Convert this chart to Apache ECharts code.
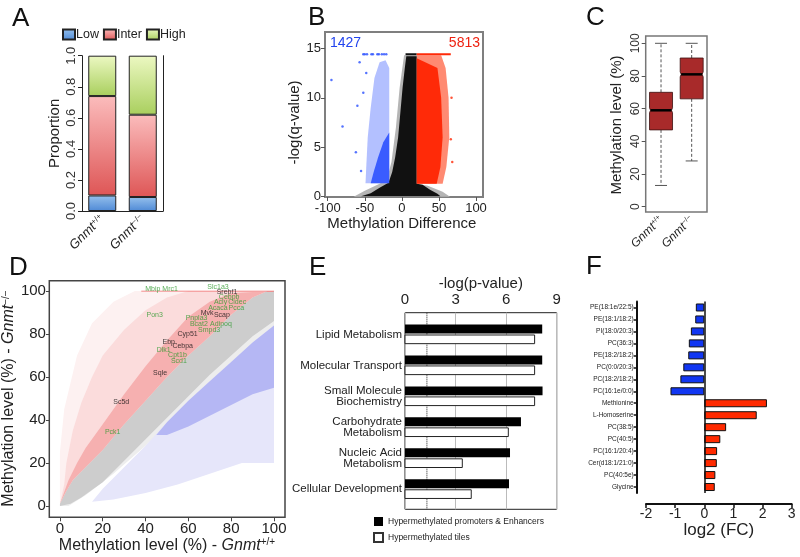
<!DOCTYPE html>
<html lang="en">
<head>
<meta charset="UTF-8">
<title>Gnmt methylation</title>
<script src="https://cdn.jsdelivr.net/npm/echarts@6.0.0/dist/echarts.min.js"></script>
<style>
    *{ padding:0; margin:0; }
    html,body{ width:800px; height:557px; background:#fff; }
    #main{ width:800px; height:557px; }
</style>
</head>
<body>
<div id="main"></div>
<script>
// ---- A: proportions
var genotypes = ['Gnmt+/+', 'Gnmt\u2212/\u2212'];
var propLow = [0.10, 0.09];
var propInter = [0.64, 0.53];
var propHigh = [0.26, 0.38];

// ---- B: volcano (cloud outlines, x = difference, y = -log q)
var bBlackHalo = [[-65,0],[-50,0.6],[-30,1.3],[-20,1.8],[-14,3.5],[-8,7],[-3,11],[3,14.3],[20,14.3],[20,1.3],[35,1.1],[55,0.5],[65,0]];
var bBlackCore = [[-55,0.05],[-42,0.35],[-30,0.9],[-18,1.4],[-13,2.5],[-9,4],[-5,6],[-2,8.5],[1,11],[4,13],[6,14.2],[20,14.2],[20,1.3],[28,1.2],[38,0.7],[48,0.3],[52,0.05]];
var bBlueHalo = [[-17,1.35],[-49,1.35],[-48,3],[-46,6],[-42,9],[-37,12],[-30,13.6],[-22,13.8],[-17,13]];
var bBlueCore = [[-17,1.35],[-42,1.35],[-38,2.5],[-32,4],[-25,5.5],[-17,6.5]];
var bRedHalo = [[20,1.3],[55,1.3],[60,3],[64,6],[63,10],[59,13],[53,14.3],[20,14.3]];
var bRedCore = [[20,1.3],[47,1.3],[52,3],[55,6],[53,10],[48,13],[20,14]];
var bBlueOut = [[-95,11.8],[-80,7.1],[-57,13.6],[-60,9.2],[-62,4.5],[-55,2.6],[-48,12.5],[-52,10.5]];
var bBlueTop = [[-52,14.4],[-50,14.4],[-47,14.4],[-41,14.4],[-39,14.4],[-33,14.4],[-31,14.4],[-27,14.4],[-24,14.4],[-21,14.4]];
var bRedOut = [[67,10],[66,5.8],[68,3.5]];
var bBlackTop = [[5,14.4],[20,14.4]];
var bRedTop = [[20,14.4],[66,14.4]];
var nDown = '1427', nUp = '5813';

// ---- C: methylation level boxes [category, low, q1, median, q3, high]
var boxWT = [0, 13, 47, 59, 70, 100];
var boxKO = [1, 28, 66, 81, 91, 100];

// ---- D: scatter clouds (WT level, KO level)
var dGrayHalo = [[0,0],[3,10],[8,20],[15,30],[25,44],[35,55],[45,64],[55,73],[65,82],[75,90],[85,97],[95,100],[100,100],[100,75],[85,65],[70,54],[55,42],[40,28],[25,15],[12,5],[4,0]];
var dGrayUpper = [[0,1],[3,7],[6,12],[10,16],[15,21],[20,26],[30,38],[40,49],[50,60],[60,70],[70,79],[80,89],[90,97],[97,100],[100,100]];
var dGrayLower = [[100,86],[90,79],[80,70],[70,61],[60,51],[50,41],[40,31],[30,21],[20,11],[10,4],[5,1],[0,0]];
var dRedFar = [[0,10],[0,25],[2,45],[8,70],[15,85],[25,95],[35,100],[90,100]];
var dRedHalo = [[2,10],[3,20],[6,35],[10,48],[15,60],[20,70],[30,82],[40,91],[50,97],[60,100],[90,100]];
var dRedCore = [[4,12],[8,20],[12,27],[20,38],[30,52],[40,65],[50,77],[60,88],[70,95],[80,99],[90,99.5]];
var dBlueHalo = [[15,2],[20,8],[25,13],[30,18],[40,28],[50,39],[60,49],[70,58],[80,67],[90,76],[100,84],[100,20],[85,20],[70,15],[55,10],[40,6],[25,3]];
var dBlueCore = [[45,33],[50,39],[60,49],[70,58],[80,67],[90,76],[100,84],[100,55],[90,52],[80,47],[70,42],[60,37],[50,33]];
var dTopLine = [[38,100],[100,100]];
var greenGenes = [[39.6,100.8,'Mbip Mrc1'],[68.6,102,'Slc1a3'],[74,97,'Cebpb'],[71.7,94.7,'Acly'],[78.4,94.7,'Cidec'],
    [69,92.2,'Acaca'],[78.5,92.2,'Pcca'],[40.2,89,'Pon3'],[58.5,87.6,'Pnpla3'],[60.5,84.5,'Bcat2'],[69.9,84.5,'Adipoq'],
    [64.3,81.9,'Smpd3'],[45,72.6,'Dlk1'],[50.3,70.1,'Cpt1b'],[51.6,67.4,'Scd1'],[20.8,34.4,'Pck1']];
var blackGenes = [[73,99.4,'Srebf1'],[65.5,89.6,'Mvk'],[71.7,89,'Scap'],[54.7,79.8,'Cyp51'],[47.7,76.1,'Ebp'],
    [52.3,74.6,'Cebpa'],[43.3,62,'Sqle'],[24.7,48.4,'Sc5d']];

// ---- E: pathway enrichment
var eCats = ['Lipid Metabolism', 'Molecular Transport', 'Small Molecule\nBiochemistry',
    'Carbohydrate\nMetabolism', 'Nucleic Acid\nMetabolism', 'Cellular Development'];
var ePromoter = [8.14, 8.14, 8.16, 6.88, 6.23, 6.17];
var eTiles = [7.69, 7.69, 7.69, 6.13, 3.40, 3.93];
var eThreshold = 1.3;

// ---- F: metabolite fold changes
var fNames = ['PE(18:1e/22:5)', 'PE(18:1/18:2)', 'PI(18:0/20:3)', 'PC(36:3)', 'PE(18:2/18:2)', 'PC(0:0/20:3)',
    'PC(18:2/18:2)', 'PC(16:1e/0:0)', 'Methionine', 'L-Homoserine', 'PC(38:5)', 'PC(40:5)', 'PC(16:1/20:4)',
    'Cer(d18:1/21:0)', 'PC(40:5e)', 'Glycine'];
var fLog2 = [-0.29, -0.31, -0.46, -0.53, -0.55, -0.72, -0.82, -1.16, 2.15, 1.80, 0.75, 0.55, 0.44, 0.43, 0.38, 0.36];

var FONT = 'Liberation Sans, Arial, sans-serif';
var myChart = echarts.init(document.getElementById('main'));

function geno(v) {
    return '{i|Gnmt}{s|' + v.replace('Gnmt', '') + '}';
}
function genoRich(size) {
    return {
        i: { fontStyle: 'italic', fontSize: size, fontFamily: FONT, color: '#222' },
        s: { fontSize: Math.round(size * 0.6), fontFamily: FONT, color: '#222', verticalAlign: 'top' },
        n: { fontSize: size, fontFamily: FONT, color: '#222' }
    };
}
function grad(top, bottom) {
    return new echarts.graphic.LinearGradient(0, 0, 0, 1, [{ offset: 0, color: top }, { offset: 1, color: bottom }]);
}
// one filled outline per cloud, anchored on its first vertex
function cloud(pts, color, xi, yi, z) {
    return {
        type: 'custom', xAxisIndex: xi, yAxisIndex: yi, z: z, silent: true, data: [pts[0]],
        renderItem: function (params, api) {
            return {
                type: 'polygon',
                shape: { points: pts.map(function (p) { return api.coord(p); }) },
                style: { fill: color }
            };
        }
    };
}
function geneLabels(list, color) {
    return {
        type: 'scatter', xAxisIndex: 3, yAxisIndex: 3, data: list, symbolSize: 1, silent: true, z: 5, clip: false,
        itemStyle: { color: 'rgba(0,0,0,0)' },
        label: {
            show: true, position: 'right', distance: 0, fontSize: 7, fontFamily: FONT, color: color,
            formatter: function (p) { return p.value[2]; }
        }
    };
}
function outTick(color) {
    return { show: true, length: 4, lineStyle: { color: color } };
}
// hidden axis line that stays on the grid edge (not on zero)
var noLine = { show: false, onZero: false };

option = {
    animation: false,
    textStyle: { fontFamily: FONT },
    grid: [
        { left: 82, right: 637, top: 55.7, bottom: 346 },
        // data areas (tick range); frames are drawn by grids 6-8
        { left: 327.7, right: 324, top: 48.3, bottom: 360.3 },
        { left: 645.7, right: 93, top: 43.3, bottom: 350.3 },
        { left: 59.3, right: 526, top: 291, bottom: 51 },
        { left: 405, right: 243.3, top: 312.7, bottom: 47.7, show: true, borderColor: '#222', borderWidth: 1 },
        { left: 646, right: 8.3, top: 301.5, bottom: 64 },
        { left: 325, right: 317, top: 32, bottom: 360, show: true, borderColor: '#7f7f7f', borderWidth: 2 },
        { left: 645.7, right: 93, top: 36, bottom: 345, show: true, borderColor: '#777', borderWidth: 1.5 },
        { left: 49.3, right: 515, top: 280.7, bottom: 39.7, show: true, borderColor: '#444', borderWidth: 1.5 }
    ],
    legend: [
        {
            data: ['Low', 'Inter', 'High'], left: 62, top: 28, padding: 0, itemWidth: 12, itemHeight: 10, itemGap: 4,
            icon: 'rect', textStyle: { fontSize: 12.5, fontFamily: FONT, color: '#222', padding: [0, 0, 0, -4] }
        },
        {
            data: ['Hypermethylated promoters & Enhancers', 'Hypermethylated tiles'], left: 373, top: 517, padding: 0,
            orient: 'vertical', icon: 'rect', itemWidth: 9, itemHeight: 9, itemGap: 6,
            textStyle: { fontSize: 8.5, fontFamily: FONT, color: '#222' }
        }
    ],
    xAxis: [
        {
            gridIndex: 0, type: 'category', data: genotypes,
            axisLine: { onZero: false, lineStyle: { color: '#222', width: 1 } }, axisTick: { show: false },
            axisLabel: { rotate: 45, margin: 6, formatter: function (v) { return geno(v); }, rich: genoRich(13) }
        },
        {
            gridIndex: 1, type: 'value', min: -100, max: 100, interval: 50, offset: 0.3,
            axisLine: noLine, axisTick: outTick('#555'),
            axisLabel: { fontSize: 13, margin: 5, color: '#222', fontFamily: FONT },
            splitLine: { show: false },
            name: 'Methylation Difference', nameLocation: 'middle', nameGap: 19,
            nameTextStyle: { fontSize: 15, fontFamily: FONT, color: '#222' }
        },
        {
            gridIndex: 2, type: 'category', data: genotypes, offset: 5.3,
            axisLine: noLine, axisTick: { alignWithLabel: true, length: 4, lineStyle: { color: '#555' } },
            axisLabel: { rotate: 45, margin: 6, formatter: function (v) { return geno(v); }, rich: genoRich(12) }
        },
        {
            gridIndex: 3, type: 'value', min: 0, max: 100, interval: 20, offset: 11.3,
            axisLine: noLine, axisTick: outTick('#444'),
            axisLabel: { fontSize: 15, margin: 4, color: '#222', fontFamily: FONT },
            splitLine: { show: false },
            name: '{n|Methylation level (%) - }{i|Gnmt}{s|+/+}', nameLocation: 'middle', nameGap: 20,
            nameTextStyle: { rich: genoRich(16) }
        },
        {
            gridIndex: 4, type: 'value', position: 'top', min: 0, max: 9, interval: 3,
            axisLine: noLine, axisTick: { show: false },
            axisLabel: { fontSize: 15, margin: 5, color: '#222', fontFamily: FONT },
            splitLine: { show: true, lineStyle: { color: '#bbb', width: 1 } },
            name: '-log(p-value)', nameLocation: 'middle', nameGap: 17,
            nameTextStyle: { fontSize: 15, fontFamily: FONT, color: '#222' }
        },
        {
            gridIndex: 5, type: 'value', min: -2, max: 3, interval: 1, offset: 11,
            axisLine: { show: true, onZero: false, lineStyle: { color: '#111', width: 2 } },
            axisTick: { show: true, length: 4, lineStyle: { color: '#111', width: 1.5 } },
            axisLabel: { fontSize: 14, margin: 3, color: '#222', fontFamily: FONT },
            splitLine: { show: false },
            name: 'log2 (FC)', nameLocation: 'middle', nameGap: 17,
            nameTextStyle: { fontSize: 17, fontFamily: FONT, color: '#222' }
        }
    ],
    yAxis: [
        {
            gridIndex: 0, type: 'value', min: 0, max: 1, interval: 0.2,
            axisLine: { show: true, onZero: false, lineStyle: { color: '#222' } }, axisTick: { show: true, length: 4, lineStyle: { color: '#222' } },
            axisLabel: { rotate: 90, fontSize: 13, margin: 4, color: '#333', fontFamily: FONT, formatter: function (v) { return v.toFixed(1); } },
            splitLine: { show: false },
            name: 'Proportion', nameLocation: 'middle', nameGap: 20,
            nameTextStyle: { fontSize: 15, fontFamily: FONT, color: '#222' }
        },
        {
            gridIndex: 1, type: 'value', min: 0, max: 15, interval: 5, offset: 2.7,
            axisLine: noLine, axisTick: outTick('#555'),
            axisLabel: { fontSize: 13, margin: 4, color: '#222', fontFamily: FONT },
            splitLine: { show: false },
            name: '-log(q-value)', nameLocation: 'middle', nameGap: 20,
            nameTextStyle: { fontSize: 15, fontFamily: FONT, color: '#222' }
        },
        {
            gridIndex: 2, type: 'value', min: 0, max: 100, interval: 20,
            axisLine: noLine, axisTick: outTick('#555'),
            axisLabel: { rotate: 90, fontSize: 12, margin: 4, color: '#333', fontFamily: FONT },
            splitLine: { show: false },
            name: 'Methylation level (%)', nameLocation: 'middle', nameGap: 21,
            nameTextStyle: { fontSize: 15, fontFamily: FONT, color: '#222' }
        },
        {
            gridIndex: 3, type: 'value', min: 0, max: 100, interval: 20, offset: 10,
            axisLine: noLine, axisTick: outTick('#444'),
            axisLabel: { fontSize: 15, margin: 4, color: '#222', fontFamily: FONT },
            splitLine: { show: false },
            name: '{n|Methylation level (%) - }{i|Gnmt}{s|\u2212/\u2212}', nameLocation: 'middle', nameGap: 29,
            nameTextStyle: { rich: genoRich(16) }
        },
        {
            gridIndex: 4, type: 'value', inverse: true, min: 0.3, max: 6.65,
            axisLine: noLine, axisTick: { show: false }, splitLine: { show: false },
            axisLabel: {
                customValues: [1, 2, 3, 4, 5, 6], fontSize: 11.5, lineHeight: 11, margin: 3, color: '#222', fontFamily: FONT,
                align: 'right', formatter: function (v) { return eCats[Math.round(v) - 1]; }
            }
        },
        {
            gridIndex: 5, type: 'category', data: fNames, inverse: true, offset: 9.3,
            axisLine: { show: true, onZero: false, lineStyle: { color: '#111', width: 2 } },
            axisTick: { show: true, alignWithLabel: true, length: 3, lineStyle: { color: '#111', width: 1.5 } },
            axisLabel: { fontSize: 6.5, margin: 3, color: '#222', fontFamily: FONT }
        },
        {
            gridIndex: 0, type: 'value', position: 'right', min: 0, max: 1,
            axisLine: { show: true, onZero: false, lineStyle: { color: '#222' } }, axisTick: { show: false },
            axisLabel: { show: false }, splitLine: { show: false }
        }
    ],
    graphic: [
        { type: 'text', left: 12, top: 6, style: { text: 'A', fontSize: 26, fontFamily: FONT, fill: '#111' } },
        { type: 'text', left: 308, top: 5, style: { text: 'B', fontSize: 26, fontFamily: FONT, fill: '#111' } },
        { type: 'text', left: 586, top: 5, style: { text: 'C', fontSize: 26, fontFamily: FONT, fill: '#111' } },
        { type: 'text', left: 9, top: 255, style: { text: 'D', fontSize: 26, fontFamily: FONT, fill: '#111' } },
        { type: 'text', left: 309, top: 255, style: { text: 'E', fontSize: 26, fontFamily: FONT, fill: '#111' } },
        { type: 'text', left: 586, top: 254, style: { text: 'F', fontSize: 26, fontFamily: FONT, fill: '#111' } },
        { type: 'text', left: 330, top: 36, style: { text: nDown, fontSize: 14, fontFamily: FONT, fill: '#2244ee' } },
        { type: 'text', right: 320, top: 36, style: { text: nUp, fontSize: 14, fontFamily: FONT, fill: '#ee2211' } }
    ],
    series: [
        // A
        {
            name: 'Low', type: 'bar', stack: 'p', xAxisIndex: 0, yAxisIndex: 0, barWidth: 28, data: propLow,
            itemStyle: { color: grad('#95c0ec', '#4f8ad6'), borderColor: '#222', borderWidth: 1 }
        },
        {
            name: 'Inter', type: 'bar', stack: 'p', xAxisIndex: 0, yAxisIndex: 0, barWidth: 28, data: propInter,
            itemStyle: { color: grad('#fbbcbc', '#de5656'), borderColor: '#222', borderWidth: 1 }
        },
        {
            name: 'High', type: 'bar', stack: 'p', xAxisIndex: 0, yAxisIndex: 0, barWidth: 28, data: propHigh,
            itemStyle: { color: grad('#ecf8c2', '#a9cf5e'), borderColor: '#222', borderWidth: 1 }
        },
        // B
        cloud(bBlackHalo, '#b5b5b5', 1, 1, 1),
        cloud(bBlueHalo, '#b3c0ff', 1, 1, 1),
        cloud(bRedHalo, '#ff8a72', 1, 1, 1),
        cloud(bBlackCore, '#111', 1, 1, 2),
        cloud(bBlueCore, '#3a5cff', 1, 1, 2),
        cloud(bRedCore, '#ff2a08', 1, 1, 2),
        {
            type: 'scatter', xAxisIndex: 1, yAxisIndex: 1, symbolSize: 2.5, data: bBlueOut.concat(bBlueTop),
            itemStyle: { color: '#2a50ff' }, silent: true, z: 3
        },
        {
            type: 'scatter', xAxisIndex: 1, yAxisIndex: 1, symbolSize: 2.5, data: bRedOut,
            itemStyle: { color: '#ff2a08' }, silent: true, z: 3
        },
        {
            type: 'line', xAxisIndex: 1, yAxisIndex: 1, data: bBlackTop, symbol: 'none', silent: true, z: 3,
            lineStyle: { color: '#111', width: 2 }
        },
        {
            type: 'line', xAxisIndex: 1, yAxisIndex: 1, data: bRedTop, symbol: 'none', silent: true, z: 3,
            lineStyle: { color: '#ff2a08', width: 2 }
        },
        // C
        {
            type: 'custom', xAxisIndex: 2, yAxisIndex: 2, data: [boxWT, boxKO], silent: true,
            renderItem: function (params, api) {
                var ci = api.value(0);
                var x = api.coord([ci, 0])[0];
                var yLo = api.coord([ci, api.value(1)])[1], yQ1 = api.coord([ci, api.value(2)])[1];
                var yMd = api.coord([ci, api.value(3)])[1], yQ3 = api.coord([ci, api.value(4)])[1];
                var yHi = api.coord([ci, api.value(5)])[1];
                var h = 11.5, n = 2.5, d = 1;
                var dash = { stroke: '#555', lineWidth: 1, lineDash: [3, 2] };
                var solid = { stroke: '#555', lineWidth: 1 };
                return {
                    type: 'group', children: [
                        { type: 'line', shape: { x1: x, y1: yQ3, x2: x, y2: yHi }, style: dash },
                        { type: 'line', shape: { x1: x, y1: yQ1, x2: x, y2: yLo }, style: dash },
                        { type: 'line', shape: { x1: x - 6, y1: yHi, x2: x + 6, y2: yHi }, style: solid },
                        { type: 'line', shape: { x1: x - 6, y1: yLo, x2: x + 6, y2: yLo }, style: solid },
                        {
                            type: 'polygon', shape: {
                                points: [[x - h, yQ3], [x + h, yQ3], [x + h, yMd - n], [x + h - d, yMd], [x + h, yMd + n],
                                    [x + h, yQ1], [x - h, yQ1], [x - h, yMd + n], [x - h + d, yMd], [x - h, yMd - n]]
                            },
                            style: { fill: '#a82a2a', stroke: '#3a1010', lineWidth: 0.8 }
                        },
                        { type: 'line', shape: { x1: x - h + d, y1: yMd, x2: x + h - d, y2: yMd }, style: { stroke: '#000', lineWidth: 2.5 } }
                    ]
                };
            }
        },
        // D
        cloud(dGrayHalo, '#ededed', 3, 3, 1),
        cloud(dBlueHalo, '#e6e6fa', 3, 3, 1),
        cloud(dRedFar.concat(dGrayUpper.slice().reverse()), '#fdf1f1', 3, 3, 1),
        cloud(dRedHalo.concat(dGrayUpper.slice().reverse()), '#fbdcdc', 3, 3, 2),
        cloud(dGrayUpper.concat(dGrayLower), '#cdcdcd', 3, 3, 2),
        cloud(dRedCore.concat(dGrayUpper.slice().reverse()), '#f6b0b0', 3, 3, 3),
        cloud(dBlueCore, '#b5b7f4', 3, 3, 3),
        {
            type: 'line', xAxisIndex: 3, yAxisIndex: 3, data: dTopLine, symbol: 'none', silent: true, z: 4,
            lineStyle: { color: '#f06a6a', width: 1 }
        },
        geneLabels(greenGenes, '#2e9a2e'),
        geneLabels(blackGenes, '#111'),
        // E
        {
            type: 'line', xAxisIndex: 4, yAxisIndex: 4, data: [[eThreshold, 0.3], [eThreshold, 6.65]], symbol: 'none',
            silent: true, z: 1, lineStyle: { color: '#222', width: 1, type: 'dotted' }
        },
        {
            name: 'Hypermethylated promoters & Enhancers', type: 'custom', xAxisIndex: 4, yAxisIndex: 4,
            data: ePromoter.map(function (v, i) { return [v, i + 1]; }), encode: { x: 0, y: 1 },
            itemStyle: { color: '#000', borderColor: '#000' },
            renderItem: function (params, api) {
                var a = api.coord([0, api.value(1) - 0.32]), b = api.coord([api.value(0), api.value(1) - 0.03]);
                return { type: 'rect', shape: { x: a[0], y: a[1], width: b[0] - a[0], height: b[1] - a[1] }, style: { fill: '#000' } };
            }
        },
        {
            name: 'Hypermethylated tiles', type: 'custom', xAxisIndex: 4, yAxisIndex: 4,
            data: eTiles.map(function (v, i) { return [v, i + 1]; }), encode: { x: 0, y: 1 },
            itemStyle: { color: '#fff', borderColor: '#333', borderWidth: 1 },
            renderItem: function (params, api) {
                var a = api.coord([0, api.value(1) + 0.02]), b = api.coord([api.value(0), api.value(1) + 0.3]);
                return {
                    type: 'rect', shape: { x: a[0], y: a[1], width: b[0] - a[0], height: b[1] - a[1] },
                    style: { fill: '#fff', stroke: '#222', lineWidth: 1 }
                };
            }
        },
        // F
        {
            type: 'bar', xAxisIndex: 5, yAxisIndex: 5, barWidth: 8, silent: true,
            data: fLog2.map(function (v) {
                return { value: v, itemStyle: { color: v < 0 ? '#1136f2' : '#ff2a00' } };
            }),
            itemStyle: { borderColor: '#111', borderWidth: 1 },
            markLine: {
                silent: true, symbol: 'none', label: { show: false },
                lineStyle: { color: '#111', width: 1.5, type: 'solid' },
                data: [{ xAxis: 0 }]
            }
        }
    ]
};
myChart.setOption(option);
</script>
</body>
</html>
